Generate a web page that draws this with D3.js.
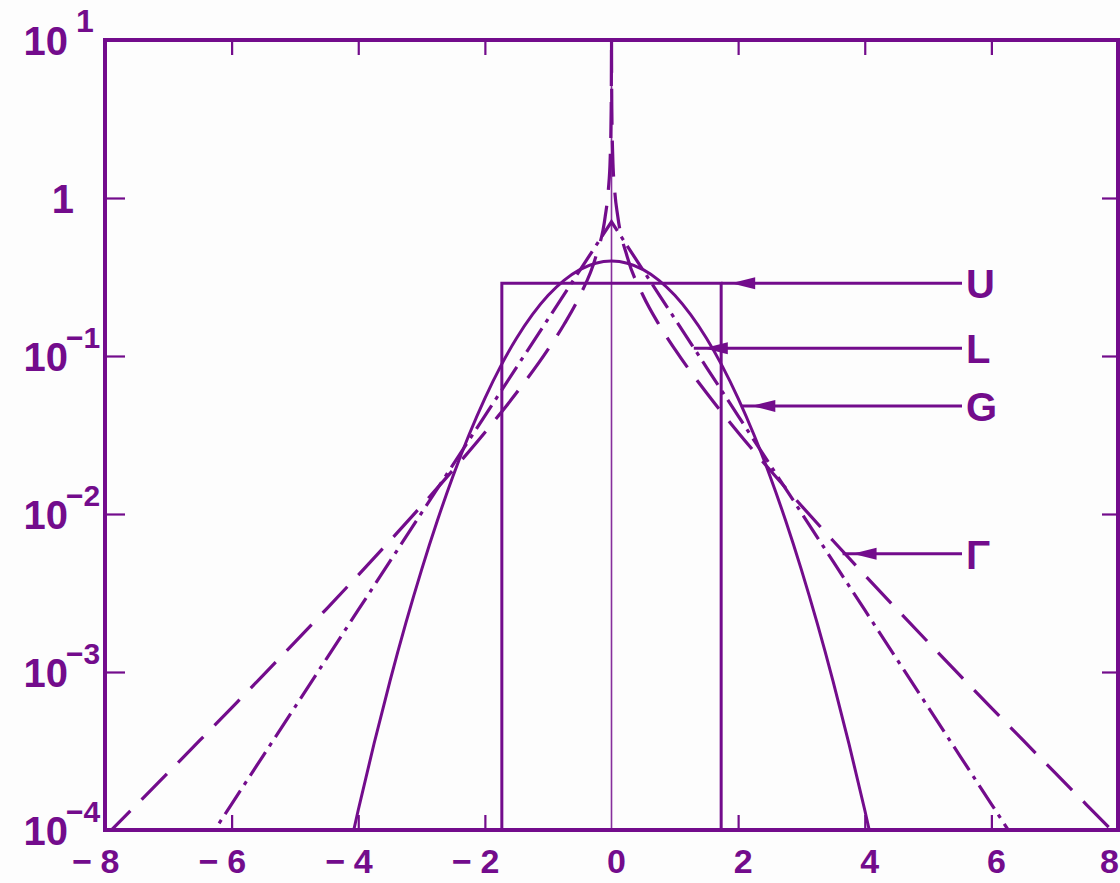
<!DOCTYPE html>
<html>
<head>
<meta charset="utf-8">
<script src="https://cdn.jsdelivr.net/npm/d3@7"></script>
<style>
  html, body { margin: 0; padding: 0; background: #fdfdfd; }
  svg { display: block; }
  text { font-family: "Liberation Sans", Arial, sans-serif; font-weight: bold; fill: #730c8c; }
</style>
</head>
<body>
<svg id="chart" width="1120" height="883"></svg>
<script>
// Unit-variance amplitude densities, sampled for x >= 0 (each is symmetric in x).
const gaussX = [0, 0.25, 0.5, 0.75, 1, 1.25, 1.5, 1.75, 2, 2.25, 2.5, 2.75, 3, 3.25, 3.5, 3.75, 4, 4.25];
const gaussP = [0.3989, 0.3867, 0.3521, 0.3011, 0.2420, 0.1826, 0.1295, 0.0863, 0.0540, 0.03174,
                0.01753, 0.00909, 0.004432, 0.002029, 0.000873, 0.0003527, 0.0001338, 0.0000477];

const laplX = [0, 0.25, 0.5, 0.75, 1, 1.5, 2, 2.5, 3, 3.5, 4, 4.5, 5, 5.5, 6, 6.5];
const laplP = [0.7071, 0.4965, 0.3487, 0.2448, 0.1719, 0.0848, 0.0418, 0.02061, 0.01016, 0.005009,
               0.002469, 0.001217, 0.0006001, 0.000296, 0.0001459, 0.0000719];

const gammaX = [0.0006, 0.001, 0.005, 0.02, 0.05, 0.1, 0.25, 0.5, 0.75, 1, 1.5, 2, 2.5, 3, 3.5,
                4, 4.5, 5, 5.5, 6, 6.5, 7, 7.5, 8];
const gammaP = [10.71, 8.294, 3.697, 1.824, 1.124, 0.7613, 0.4228, 0.2408, 0.1583, 0.1104, 0.05847,
                0.03284, 0.01905, 0.011275, 0.006771, 0.004108, 0.002512, 0.001546, 0.000956,
                0.0005937, 0.00037, 0.0002313, 0.0001449, 0.0000910];

const uniformX = [-1.732, -1.732, 1.732, 1.732];
const uniformP = [0.0001, 0.2887, 0.2887, 0.0001];

// Curve labels with the point each arrow points at
const labelNames = ["U", "L", "G", "\u0393"];
const labelX = [1.732, 1.3, 2.05, 3.65];
const labelP = [0.2887, 0.112, 0.0483, 0.0056];

// Axis ticks
const xTicks = [-8, -6, -4, -2, 0, 2, 4, 6, 8];
const xInnerTicks = [-6, -4, -2, 2, 4, 6];
const yExponents = [1, 0, -1, -2, -3, -4];
const yInnerTicks = [1, 0.1, 0.01, 0.001];

const INK = "#730c8c";
const svg = d3.select("#chart");

const x = d3.scaleLinear().domain([-8, 8]).range([105, 1118]);
const y = d3.scaleLog().domain([1e-4, 10]).range([830, 40]);

// mirror a half-density into a full symmetric series
function mirror(xs, ps) {
  const left = xs.map((v, i) => ({ x: -v, p: ps[i] })).filter(d => d.x !== 0).reverse();
  const right = xs.map((v, i) => ({ x: v, p: ps[i] }));
  return left.concat(right);
}

svg.append("defs").append("clipPath").attr("id", "plotClip")
  .append("rect")
  .attr("x", x(-8)).attr("y", y(10))
  .attr("width", x(8) - x(-8)).attr("height", y(1e-4) - y(10));

const plot = svg.append("g").attr("clip-path", "url(#plotClip)");

// thin zero line
plot.append("line")
  .attr("x1", x(0)).attr("x2", x(0))
  .attr("y1", y(1e-4)).attr("y2", y(10))
  .attr("stroke", INK).attr("stroke-width", 1.6).attr("opacity", 0.85);

const lineSmooth = d3.line().x(d => x(d.x)).y(d => y(d.p)).curve(d3.curveMonotoneX);
const lineStraight = d3.line().x(d => x(d.x)).y(d => y(d.p));

// Uniform (box)
plot.append("path")
  .datum(uniformX.map((v, i) => ({ x: v, p: uniformP[i] })))
  .attr("d", lineStraight)
  .attr("fill", "none").attr("stroke", INK).attr("stroke-width", 3);

// Gaussian (solid)
plot.append("path")
  .datum(mirror(gaussX, gaussP))
  .attr("d", lineSmooth)
  .attr("fill", "none").attr("stroke", INK).attr("stroke-width", 3);

// Laplacian (dash-dot)
plot.append("path")
  .datum(mirror(laplX, laplP))
  .attr("d", lineStraight)
  .attr("fill", "none").attr("stroke", INK).attr("stroke-width", 3.2)
  .attr("stroke-dasharray", "28,7,4,7");

// Gamma (dashed)
plot.append("path")
  .datum(mirror(gammaX, gammaP))
  .attr("d", lineSmooth)
  .attr("fill", "none").attr("stroke", INK).attr("stroke-width", 3.2)
  .attr("stroke-dasharray", "36,16");

// Inner ticks on all four sides
const tickStyle = g => {
  g.select(".domain").remove();
  g.selectAll(".tick line").attr("stroke", INK).attr("stroke-width", 2.2);
};
svg.append("g").attr("transform", `translate(0,${y(1e-4)})`)
  .call(d3.axisBottom(x).tickValues(xInnerTicks).tickSize(-15).tickFormat(""))
  .call(tickStyle);
svg.append("g").attr("transform", `translate(0,${y(10)})`)
  .call(d3.axisTop(x).tickValues(xInnerTicks).tickSize(-15).tickFormat(""))
  .call(tickStyle);
svg.append("g").attr("transform", `translate(${x(-8)},0)`)
  .call(d3.axisLeft(y).tickValues(yInnerTicks).tickSize(-20).tickFormat(""))
  .call(tickStyle);
svg.append("g").attr("transform", `translate(${x(8)},0)`)
  .call(d3.axisRight(y).tickValues(yInnerTicks).tickSize(-16).tickFormat(""))
  .call(tickStyle);

// Frame
svg.append("rect")
  .attr("x", x(-8)).attr("y", y(10))
  .attr("width", x(8) - x(-8)).attr("height", y(1e-4) - y(10))
  .attr("fill", "none").attr("stroke", INK).attr("stroke-width", 4);

// x tick labels: digit centred near the tick, minus sign set off to the left
const xl = svg.append("g");
const xLabelY = 873;
xTicks.forEach(t => {
  const last = t === xTicks[xTicks.length - 1];
  xl.append("text")
    .attr("x", last ? 1119 : x(t) + 5).attr("y", xLabelY)
    .attr("text-anchor", last ? "end" : "middle").attr("font-size", 34)
    .text(Math.abs(t));
  if (t < 0) {
    xl.append("text")
      .attr("x", x(t) - 13).attr("y", xLabelY)
      .attr("text-anchor", "end").attr("font-size", 34)
      .text("\u2212");
  }
});

// y tick labels as powers of ten
const yl = svg.append("g");
yExponents.forEach(e => {
  const yy = y(Math.pow(10, e));
  if (e === 0) {
    yl.append("text").attr("x", 74).attr("y", yy + 15)
      .attr("text-anchor", "end").attr("font-size", 40).text("1");
    return;
  }
  yl.append("text").attr("x", 68).attr("y", yy + 15)
    .attr("text-anchor", "end").attr("font-size", 40).text("10");
  yl.append("text").attr("x", e > 0 ? 76 : 66).attr("y", yy - 8)
    .attr("text-anchor", "start").attr("font-size", e > 0 ? 32 : 30)
    .text(e > 0 ? String(e) : "\u2212" + Math.abs(e));
});

// Curve labels with arrows
const ann = svg.append("g");
labelNames.forEach((name, i) => {
  const tx = x(labelX[i]);
  const ty = y(labelP[i]);
  const textX = 966;
  ann.append("line")
    .attr("x1", tx).attr("x2", textX - 4)
    .attr("y1", ty).attr("y2", ty)
    .attr("stroke", INK).attr("stroke-width", 3);
  const ax = tx + 10;
  ann.append("path")
    .attr("d", `M${ax},${ty} L${ax + 24},${ty - 6} L${ax + 24},${ty + 6} Z`)
    .attr("fill", INK);
  ann.append("text")
    .attr("x", textX).attr("y", ty + 15)
    .attr("font-size", 40)
    .text(name);
});
</script>
</body>
</html>
